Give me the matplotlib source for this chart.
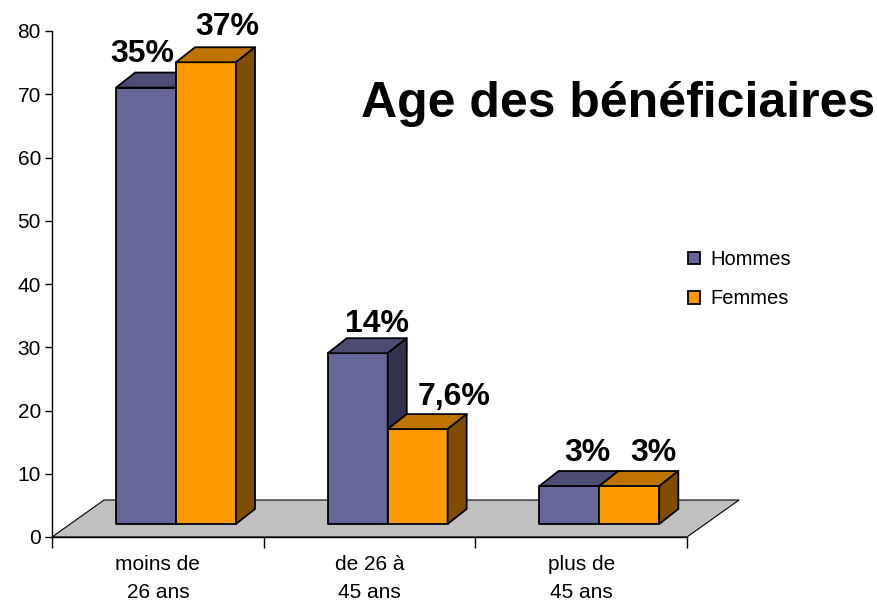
import matplotlib.pyplot as plt
from matplotlib.patches import Polygon, Patch

plt.rcParams['font.family'] = ['Liberation Sans', 'DejaVu Sans']

# data
categories = ['moins de\n26 ans', 'de 26 à\n45 ans', 'plus de\n45 ans']
series = ['Hommes', 'Femmes']
hommes = [69, 27, 6]
femmes = [73, 15, 6]
hommes_pct = ['35%', '14%', '3%']
femmes_pct = ['37%', '7,6%', '3%']

front_colors = ['#666699', '#FF9900']
top_colors = ['#4D4D73', '#BF7300']
side_colors = ['#33334D', '#804D00']

# fake 3d geometry (data units)
floor_dx, floor_dy = 0.246, 5.85
off_x, off_y = 0.086, 2.06      # where bars stand on the floor
dep_x, dep_y = 0.09, 2.37       # bar depth
bar_w = 0.283

# label nudges in pixels (x, y above back top edge)
label_nudge = [[(-23, 11), (0, 6), (-1, 10)],
               [(2, 12), (17, 9), (5, 10)]]

fig = plt.figure(figsize=(8.78, 6.03), dpi=100)
ax = fig.add_axes([52 / 878, 66 / 603, 635 / 878, 506 / 603])
ax.set_xlim(0, 3)
ax.set_ylim(0, 80)

# floor
n = len(categories)
floor = Polygon([(0, 0), (n, 0), (n + floor_dx, floor_dy), (floor_dx, floor_dy)],
                closed=True, facecolor='#C0C0C0', edgecolor='black', lw=0.8,
                clip_on=False, zorder=1)
ax.add_patch(floor)


def bar3d(x0, h, k, z):
    y0 = off_y
    y1 = off_y + h
    x1 = x0 + bar_w
    kw = dict(closed=True, edgecolor='black', lw=1.3, clip_on=False,
              joinstyle='round', zorder=z)
    ax.add_patch(Polygon([(x0, y0), (x1, y0), (x1, y1), (x0, y1)],
                         facecolor=front_colors[k], **kw))
    ax.add_patch(Polygon([(x0, y1), (x1, y1), (x1 + dep_x, y1 + dep_y),
                          (x0 + dep_x, y1 + dep_y)],
                         facecolor=top_colors[k], **kw))
    ax.add_patch(Polygon([(x1, y0), (x1 + dep_x, y0 + dep_y),
                          (x1 + dep_x, y1 + dep_y), (x1, y1)],
                         facecolor=side_colors[k], **kw))
    return x0 + dep_x + bar_w / 2, y1 + dep_y


for i in range(n):
    centre = i + 0.5 + off_x
    for k, (vals, pcts) in enumerate([(hommes, hommes_pct), (femmes, femmes_pct)]):
        x0 = centre - bar_w + k * bar_w
        tx, ty = bar3d(x0, vals[i], k, 2 + k)
        dx, dy = label_nudge[k][i]
        ax.annotate(pcts[i], (tx, ty), xytext=(dx, dy), textcoords='offset pixels',
                    ha='center', va='baseline', fontsize=23, fontweight='bold',
                    annotation_clip=False, zorder=5)

# axes
for s in ['top', 'right']:
    ax.spines[s].set_visible(False)
ax.spines['left'].set_linewidth(1)
ax.spines['bottom'].set_linewidth(1)
ax.set_yticks(range(0, 81, 10))
ax.tick_params(axis='y', labelsize=15, length=5, width=1, pad=3)
ax.set_xticks(range(0, n + 1))
ax.set_xticklabels([])
ax.tick_params(axis='x', which='major', length=8, width=1)
ax.set_xticks([i + 0.5 for i in range(n)], minor=True)
ax.set_xticklabels(categories, minor=True, fontsize=15, linespacing=1.6)
ax.tick_params(axis='x', which='minor', length=0, pad=13)

fig.text(361 / 878, 1 - 117 / 603, 'Age des bénéficiaires', fontsize=36,
         fontweight='bold', ha='left', va='baseline')

handles = [Patch(facecolor=front_colors[k], edgecolor='black', lw=1.3) for k in range(2)]
fig.legend(handles, series, loc='upper left', bbox_to_anchor=(670 / 878, 1 - 232 / 603),
           frameon=False, fontsize=14.5, handlelength=0.6, handleheight=0.6,
           handletextpad=0.5, labelspacing=1.0)

fig.savefig('out.png', dpi=100)
